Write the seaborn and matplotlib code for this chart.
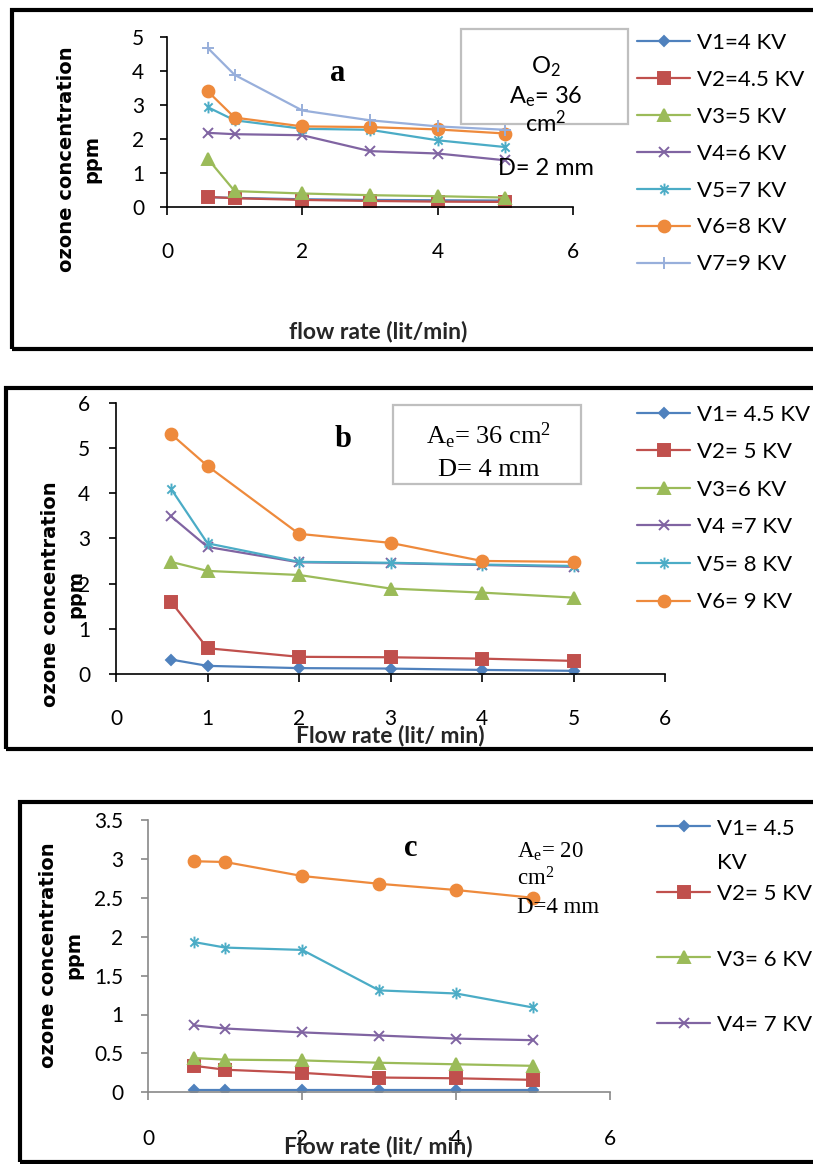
import matplotlib
matplotlib.use("Agg")
import matplotlib.pyplot as plt
from matplotlib.patches import Rectangle
from matplotlib.path import Path
import seaborn as sns

W, H = 813, 1164

# flow rate (lit/min), same for every series
flow = [0.6, 1, 2, 3, 4, 5]

# panel a: O2, Ae = 36 cm2, D = 2 mm
labels_a = ["V1=4 KV", "V2=4.5 KV", "V3=5 KV", "V4=6 KV", "V5=7 KV", "V6=8 KV", "V7=9 KV"]
ozone_a = [
    [0.28, 0.26, 0.22, 0.20, 0.19, 0.18],
    [0.29, 0.25, 0.20, 0.17, 0.15, 0.14],
    [1.42, 0.46, 0.39, 0.34, 0.31, 0.27],
    [2.18, 2.14, 2.11, 1.64, 1.57, 1.37],
    [2.94, 2.55, 2.30, 2.27, 1.96, 1.76],
    [3.41, 2.63, 2.37, 2.35, 2.28, 2.16],
    [4.69, 3.89, 2.84, 2.55, 2.37, 2.27],
]

# panel b: Ae = 36 cm2, D = 4 mm
labels_b = ["V1= 4.5 KV", "V2= 5 KV", "V3=6 KV", "V4 =7 KV", "V5= 8 KV", "V6= 9 KV"]
ozone_b = [
    [0.32, 0.18, 0.13, 0.12, 0.09, 0.07],
    [1.60, 0.57, 0.38, 0.37, 0.34, 0.29],
    [2.48, 2.28, 2.19, 1.89, 1.80, 1.69],
    [3.49, 2.81, 2.47, 2.45, 2.41, 2.37],
    [4.10, 2.89, 2.48, 2.46, 2.42, 2.39],
    [5.31, 4.60, 3.10, 2.90, 2.50, 2.48],
]

# panel c: Ae = 20 cm2, D = 4 mm (legend only shows the first four)
labels_c = ["V1= 4.5\nKV", "V2= 5 KV\n", "V3= 6 KV\n", "V4= 7 KV\n", "V5", "V6"]
ozone_c = [
    [0.03, 0.03, 0.03, 0.03, 0.03, 0.03],
    [0.34, 0.29, 0.25, 0.19, 0.18, 0.16],
    [0.44, 0.42, 0.41, 0.38, 0.36, 0.34],
    [0.86, 0.82, 0.77, 0.73, 0.69, 0.67],
    [1.93, 1.86, 1.83, 1.31, 1.27, 1.09],
    [2.97, 2.96, 2.78, 2.68, 2.60, 2.50],
]

colors = ["#4F81BD", "#C0504D", "#9BBB59", "#8064A2", "#4BACC6", "#EE8A3C", "#98AFDB"]
asterisk = Path([(0, -1), (0, 1), (-0.7, -0.7), (0.7, 0.7), (-0.7, 0.7), (0.7, -0.7)],
                [Path.MOVETO, Path.LINETO] * 3)
markers = ["D", "s", "^", "x", asterisk, "o", "+"]
msizes = [5.5, 8, 8, 7.5, 8.5, 8.5, 9]

sns.set_style("ticks")
plt.rcParams["font.family"] = ["Lato", "DejaVu Sans"]
plt.rcParams["mathtext.default"] = "regular"
plt.rcParams["text.color"] = "black"
plt.rcParams["axes.edgecolor"] = "black"
plt.rcParams["xtick.color"] = "black"
plt.rcParams["ytick.color"] = "black"

fig = plt.figure(figsize=(W / 100, H / 100), dpi=100)


def axes_px(x0, y0, x1, y1):
    return fig.add_axes([x0 / W, 1 - y1 / H, (x1 - x0) / W, (y1 - y0) / H])


def draw_series(ax, values, labels):
    for i, vals in enumerate(values):
        sns.lineplot(x=flow, y=vals, ax=ax, color=colors[i], lw=1.6, marker=markers[i],
                     ms=msizes[i], mec=colors[i], mew=1.4, label=labels[i],
                     sort=False, legend=False)


def style_axes(ax, ylim, xticks, yticks, ylabels, ypad, xpad, spine="black"):
    ax.set_xlim(0, 6)
    ax.set_ylim(*ylim)
    ax.set_xticks(xticks)
    ax.set_yticks(yticks)
    if ylabels:
        ax.set_yticklabels(ylabels)
    ax.spines[["top", "right"]].set_visible(False)
    for s in ["left", "bottom"]:
        ax.spines[s].set_color(spine)
        ax.spines[s].set_linewidth(1.2)
    ax.tick_params(axis="x", direction="out", length=6, width=1.2, pad=xpad,
                   labelsize=15, color=spine)
    ax.tick_params(axis="y", direction="out", length=5, width=1.2, pad=ypad,
                   labelsize=15, color=spine)


def add_legend(ax, n, labels, x_px, y_px, spacing):
    leg = ax.legend(ax.get_lines()[:n], labels[:n], loc="upper left",
                    bbox_to_anchor=(x_px / W, 1 - y_px / H), bbox_transform=fig.transFigure,
                    frameon=False, fontsize=16, handlelength=2.4, handletextpad=0.3,
                    borderpad=0, borderaxespad=0, labelspacing=spacing)
    return leg


def ylabel(x_px, y_px):
    fig.text(x_px / W, 1 - y_px / H, "ozone concentration\nppm", rotation=90,
             ha="center", va="center", multialignment="center", linespacing=1.4,
             family="DejaVu Sans", weight="bold", fontsize=14)


def xlabel(ax, text, x, y):
    ax.set_xlabel(text, fontsize=16.5, weight="bold", va="baseline")
    ax.xaxis.set_label_coords(x, y)


def frame(x0, y0, y1):
    fig.add_artist(Rectangle((x0 / W, 1 - y1 / H), 1.2, (y1 - y0) / H,
                             transform=fig.transFigure, fill=False, ec="black", lw=3))


def note_box(x0, y0, x1, y1):
    fig.add_artist(Rectangle((x0 / W, 1 - y1 / H), (x1 - x0) / W, (y1 - y0) / H,
                             transform=fig.transFigure, fc="white", ec="#BFBFBF", lw=1.6))


def note(x_px, y_px, text, **kw):
    fig.text(x_px / W, 1 - y_px / H, text, va="baseline", **kw)


# ---------------- panel a ----------------
frame(12, 10, 349)
ax_a = axes_px(167, 37.3, 573, 206.7)
draw_series(ax_a, ozone_a, labels_a)
style_axes(ax_a, (0, 5), [0, 2, 4, 6], [0, 1, 2, 3, 4, 5], None, ypad=11.5, xpad=19.5)
add_legend(ax_a, 7, labels_a, 637, 33, 0.76)
ylabel(79.5, 159)
xlabel(ax_a, "flow rate (lit/min)", 0.52, -0.775)
note_box(461, 29, 628, 124)
for txt, yb in zip(["O$_2$", "A$_e$= 36", "cm$^2$", "D= 2 mm"], [73, 103, 132, 175]):
    note(546, yb, txt, ha="center", fontsize=17)
note(337.5, 81, "a", ha="center", family="Liberation Serif", weight="bold", fontsize=22)

# ---------------- panel b ----------------
frame(6, 388, 749)
ax_b = axes_px(116, 402.7, 665, 674)
draw_series(ax_b, ozone_b, labels_b)
style_axes(ax_b, (0, 6), [0, 1, 2, 3, 4, 5, 6], [0, 1, 2, 3, 4, 5, 6], None,
           ypad=13.7, xpad=19.5)
add_legend(ax_b, 6, labels_b, 637, 404.6, 0.79)
ylabel(63, 594)
xlabel(ax_b, "Flow rate (lit/ min)", 0.499, -0.2506)
note_box(393, 405, 581, 484)
note(488.5, 444, "A$_e$= 36 cm$^2$", ha="center", family="Liberation Serif", fontsize=19)
note(488.5, 476, "D= 4 mm", ha="center", family="Liberation Serif", fontsize=19)
note(343, 447, "b", ha="center", family="Liberation Serif", weight="bold", fontsize=22)

# ---------------- panel c ----------------
frame(20, 802, 1162)
ax_c = axes_px(148.3, 820, 610, 1092.3)
draw_series(ax_c, ozone_c, labels_c)
style_axes(ax_c, (0, 3.5), [0, 2, 4, 6], [0, 0.5, 1, 1.5, 2, 2.5, 3, 3.5],
           ["0", "0.5", "1", "1.5", "2", "2.5", "3", "3.5"], ypad=13, xpad=20.5,
           spine="#898989")
leg_c = add_legend(ax_c, 4, labels_c, 657, 818.6, 0.5)
for col in leg_c._legend_handle_box.get_children():
    for row in col.get_children():
        row.align = "top"
for t in leg_c.get_texts():
    t.set_linespacing(1.9)
ylabel(61, 955)
xlabel(ax_c, "Flow rate (lit/ min)", 0.4975, -0.223)
for txt, yb in zip(["A$_e$= 20", "cm$^2$", "D=4 mm"], [858, 885, 913]):
    note(517, yb, txt, ha="left", family="Liberation Serif", fontsize=16.5)
note(411, 856, "c", ha="center", family="Liberation Serif", weight="bold", fontsize=22)

fig.savefig("out.png", dpi=100, facecolor="white")
